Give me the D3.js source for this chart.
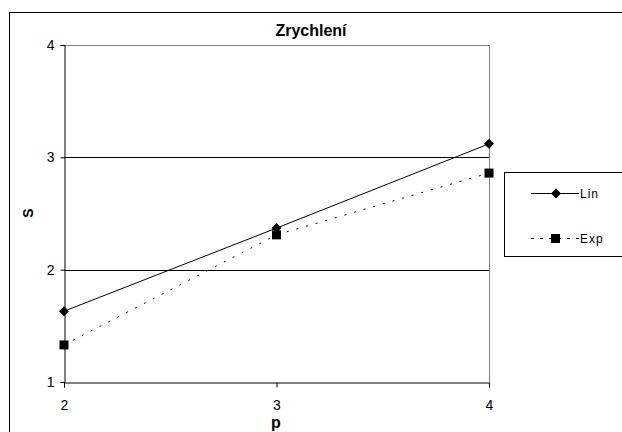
<!DOCTYPE html>
<html><head><meta charset="utf-8">
<script src="https://cdn.jsdelivr.net/npm/d3@7"></script>
<style>body{margin:0;background:#fff}svg{display:block}text{font-family:"Liberation Sans",Arial,sans-serif}</style>
</head><body>
<svg id="c" width="622" height="432"></svg>
<script>
const categories = [2, 3, 4];
const linValues = [1.63, 2.37, 3.12];
const expValues = [1.33, 2.31, 2.86];
const yTicks = [1, 2, 3, 4];
const seriesNames = ["Lin", "Exp"];
const title = "Zrychlení";
const xTitle = "p";
const yTitle = "S";

const svg = d3.select("#c");
const L = 64, R = 489, T = 45, B = 382;
const x = d3.scaleLinear().domain([2, 4]).range([L, R]);
const y = d3.scaleLinear().domain([1, 4]).range([B, T]);

// outer border
svg.append("rect").attr("x", 9.5).attr("y", 12.5).attr("width", 640).attr("height", 440)
  .attr("fill", "none").attr("stroke", "#000").attr("stroke-width", 1);

// gridlines
svg.append("g").selectAll("line").data(yTicks.filter(d => d > 1)).join("line")
  .attr("x1", L).attr("x2", R).attr("y1", d => Math.round(y(d)) + 0.5).attr("y2", d => Math.round(y(d)) + 0.5)
  .attr("stroke", d => d === 4 ? "#808080" : "#000").attr("stroke-width", 1);
// right plot border
svg.append("line").attr("x1", R + 0.5).attr("x2", R + 0.5).attr("y1", T).attr("y2", B)
  .attr("stroke", "#808080");

// axes
const yAxis = d3.axisLeft(y).tickValues(yTicks).tickFormat(d3.format("d")).tickSize(4).tickPadding(6);
const gy = svg.append("g").attr("transform", `translate(${L + 0.5},0)`).call(yAxis);
const xAxis = d3.axisBottom(x).tickValues(categories).tickFormat(d3.format("d")).tickSize(5).tickPadding(13);
const gx = svg.append("g").attr("transform", `translate(0,${B + 0.5})`).call(xAxis);
[gx, gy].forEach(g => {
  g.select(".domain").attr("stroke", "#000");
  g.selectAll(".tick line").attr("stroke", "#000");
  g.selectAll("text").attr("font-size", 14).attr("fill", "#000").attr("font-family", "Liberation Sans, Arial, sans-serif");
});

// lines
const linData = categories.map((c, i) => [c, linValues[i]]);
const expData = categories.map((c, i) => [c, expValues[i]]);
const lineGen = d3.line().x(d => x(d[0])).y(d => y(d[1]));
svg.append("path").attr("d", lineGen(expData)).attr("fill", "none").attr("stroke", "#000")
  .attr("stroke-width", 1).attr("stroke-dasharray", "2,8");
svg.append("path").attr("d", lineGen(linData)).attr("fill", "none").attr("stroke", "#000")
  .attr("stroke-width", 1);

const diamond = d3.symbol().type(d3.symbolDiamond2).size(64);
svg.append("g").selectAll("path").data(linData).join("path")
  .attr("d", diamond).attr("transform", d => `translate(${x(d[0])},${y(d[1])})`).attr("fill", "#000");
svg.append("g").selectAll("rect").data(expData).join("rect")
  .attr("x", d => x(d[0]) - 4.5).attr("y", d => y(d[1]) - 4.5).attr("width", 9).attr("height", 9).attr("fill", "#000");

// titles
svg.append("text").attr("x", 311).attr("y", 36).attr("text-anchor", "middle")
  .attr("font-size", 16).attr("font-weight", "bold").text(title);
svg.append("text").attr("x", 276).attr("y", 428).attr("text-anchor", "middle")
  .attr("font-size", 16).attr("font-weight", "bold").text(xTitle);
svg.append("text").attr("transform", "translate(33,213) rotate(-90)").attr("text-anchor", "middle")
  .attr("font-size", 14).attr("font-weight", "bold").text(yTitle);

// legend
const lg = svg.append("g");
lg.append("rect").attr("x", 504.5).attr("y", 172.5).attr("width", 130).attr("height", 84)
  .attr("fill", "#fff").attr("stroke", "#000");
const rows = [193, 238];
seriesNames.forEach((n, i) => {
  const ly = rows[i] + 0.5;
  lg.append("line").attr("x1", 531).attr("x2", 579).attr("y1", ly).attr("y2", ly)
    .attr("stroke", "#000").attr("stroke-dasharray", i === 0 ? null : "3,6");
  if (i === 0) lg.append("path").attr("d", diamond).attr("transform", `translate(556,${ly})`).attr("fill", "#000");
  else lg.append("rect").attr("x", 551).attr("y", ly - 4.5).attr("width", 9).attr("height", 9).attr("fill", "#000");
  lg.append("text").attr("x", 580).attr("y", ly + 4.5).attr("font-size", 12).attr("letter-spacing", 1).text(n);
});
</script>
</body></html>
